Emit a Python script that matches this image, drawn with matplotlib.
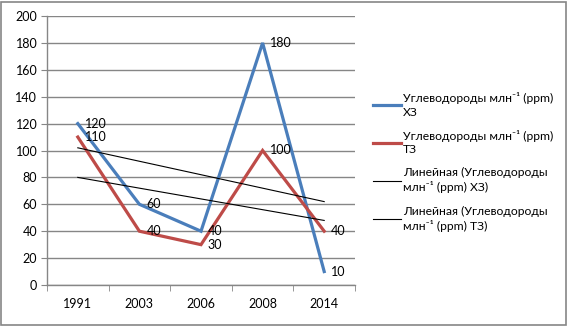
import numpy as np
import matplotlib
matplotlib.use("Agg")
import matplotlib.pyplot as plt
from matplotlib.patches import Rectangle

plt.rcParams['font.family'] = ['Lato', 'DejaVu Sans']

years = ['1991', '2003', '2006', '2008', '2014']
hc_x3 = [120, 60, 40, 180, 10]
hc_t3 = [110, 40, 30, 100, 40]
name_x3 = 'Углеводороды млн⁻¹ (ppm)\nХЗ'
name_t3 = 'Углеводороды млн⁻¹ (ppm)\nТЗ'
trend_x3 = 'Линейная (Углеводороды\nмлн⁻¹ (ppm) ХЗ)'
trend_t3 = 'Линейная (Углеводороды\nмлн⁻¹ (ppm) ТЗ)'

blue = '#4A7EBB'
red = '#BE4B48'
grid = '#868686'

fig = plt.figure(figsize=(5.68, 3.26), dpi=100)
ax = fig.add_axes([47/568, 1-285/326, 308/568, 269/326])

x = np.arange(len(years))
ax.plot(x, hc_x3, color=blue, lw=2.3, solid_joinstyle='miter', zorder=3, label=name_x3)
ax.plot(x, hc_t3, color=red, lw=2.3, solid_joinstyle='miter', zorder=3, label=name_t3)

for vals, lab in ((hc_x3, trend_x3), (hc_t3, trend_t3)):
    k, b = np.polyfit(x, vals, 1)
    ax.plot(x, k*x + b, color='black', lw=0.8, zorder=4, label=lab)

for vals in (hc_x3, hc_t3):
    for xi, v in zip(x, vals):
        ax.annotate(str(v), (xi, v), xytext=(5, 0), textcoords='offset points',
                    ha='left', va='center', fontsize=9, color='black', zorder=5)

ax.set_xlim(-0.5, len(years) - 0.5)
ax.set_ylim(0, 200)
ax.set_yticks(range(0, 201, 20))
ax.set_xticks(x)
ax.set_xticklabels(years)
ax.set_xticks(np.arange(-0.5, len(years)), minor=True)
ax.tick_params(axis='x', which='major', length=0, pad=9, labelsize=9)
ax.tick_params(axis='x', which='minor', length=4, color=grid, direction='out')
ax.tick_params(axis='y', length=4, color=grid, direction='out', labelsize=9, pad=3)
ax.yaxis.grid(True, color=grid, lw=1)
ax.set_axisbelow(True)
for s in ('top', 'right'):
    ax.spines[s].set_visible(False)
for s in ('left', 'bottom'):
    ax.spines[s].set_color(grid)
    ax.spines[s].set_linewidth(1)

leg = fig.legend(loc='upper left', bbox_to_anchor=(368/568, 1-87/326), frameon=False,
                 fontsize=8.7, handlelength=2.3, handletextpad=0.2, labelspacing=1.0,
                 borderaxespad=0)
for t in leg.get_texts():
    t.set_linespacing(1.3)

fig.patches.append(Rectangle((0.002, 0.004), 0.994, 0.99, transform=fig.transFigure,
                             fill=False, edgecolor=grid, lw=1.2))

fig.savefig('out.png', dpi=100)
